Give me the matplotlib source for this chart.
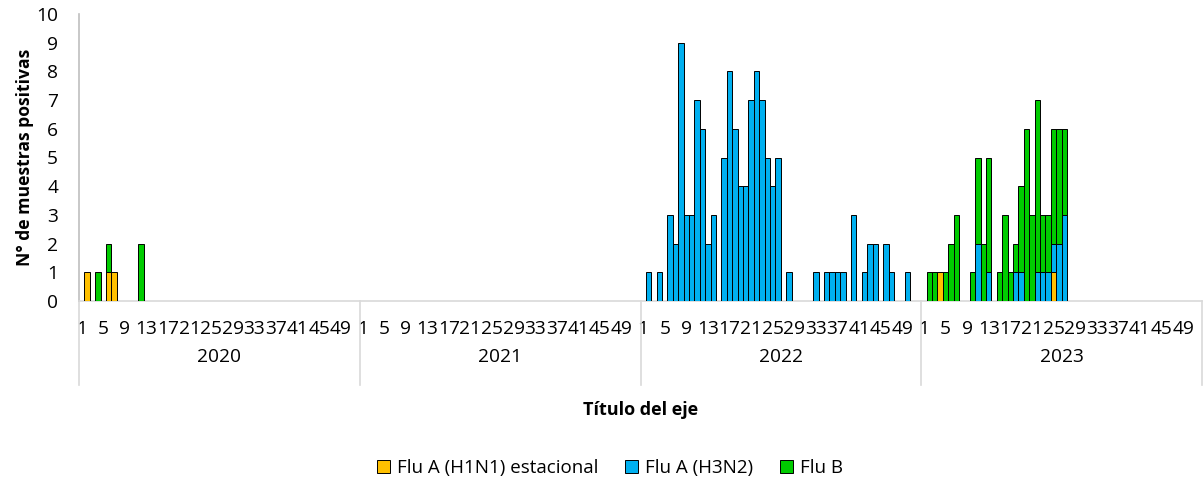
import numpy as np
import matplotlib
matplotlib.use("Agg")
import matplotlib.pyplot as plt
import matplotlib.transforms as mtransforms
from matplotlib.patches import Patch

plt.rcParams['font.family'] = ['Open Sans', 'DejaVu Sans']

# data: positive samples per epidemiological week (52 weeks per year)
years = [2020, 2021, 2022, 2023]
week_ticks = [1, 5, 9, 13, 17, 21, 25, 29, 33, 37, 41, 45, 49]
series_names = ["Flu A (H1N1) estacional", "Flu A (H3N2)", "Flu B"]
series_colors = ["#FFC000", "#00B0F0", "#00CC00"]

# {week: count} for each year, only non-zero weeks
h1n1 = {
    2020: {2: 1, 6: 1, 7: 1},
    2021: {},
    2022: {},
    2023: {4: 1, 25: 1},
}
h3n2 = {
    2020: {},
    2021: {},
    2022: {2: 1, 4: 1, 6: 3, 7: 2, 8: 9, 9: 3, 10: 3, 11: 7, 12: 6, 13: 2,
           14: 3, 16: 5, 17: 8, 18: 6, 19: 4, 20: 4, 21: 7, 22: 8, 23: 7,
           24: 5, 25: 4, 26: 5, 28: 1, 33: 1, 35: 1, 36: 1, 37: 1, 38: 1,
           40: 3, 42: 1, 43: 2, 44: 2, 46: 2, 47: 1, 50: 1},
    2023: {11: 2, 13: 1, 18: 1, 19: 1, 22: 1, 23: 1, 24: 1, 25: 1, 26: 2,
           27: 3},
}
flu_b = {
    2020: {4: 1, 6: 1, 12: 2},
    2021: {},
    2022: {},
    2023: {2: 1, 3: 1, 5: 1, 6: 2, 7: 3, 10: 1, 11: 3, 12: 2, 13: 4, 15: 1,
           16: 3, 17: 1, 18: 1, 19: 3, 20: 6, 21: 3, 22: 6, 23: 2, 24: 2,
           25: 4, 26: 4, 27: 3},
}

n_weeks = 52


def to_array(d):
    arr = np.zeros(len(years) * n_weeks)
    for k, y in enumerate(years):
        for w, v in d[y].items():
            arr[k * n_weeks + w - 1] = v
    return arr


values = [to_array(h1n1), to_array(h3n2), to_array(flu_b)]
x = np.arange(len(years) * n_weeks)

fig = plt.figure(figsize=(12.03, 4.83), dpi=100)
ax = fig.add_axes([79 / 1203, 1 - 301 / 483, 1123 / 1203, 287 / 483])

bottom = np.zeros_like(x, dtype=float)
for vals, col in zip(values, series_colors):
    m = vals > 0
    ax.bar(x[m], vals[m], width=1.0, bottom=bottom[m], color=col,
           edgecolor="black", linewidth=0.7, zorder=3)
    bottom += vals

ax.set_xlim(-0.5, len(x) - 0.5)
ax.set_ylim(0, 10)
ax.set_yticks(range(0, 11))
ax.tick_params(axis="y", length=0, pad=15, labelsize=13.8)

tick_pos = [k * n_weeks + w - 1 for k in range(len(years)) for w in week_ticks]
tick_lab = [str(w) for k in range(len(years)) for w in week_ticks]
ax.set_xticks(tick_pos)
ax.set_xticklabels(tick_lab)
ax.tick_params(axis="x", length=0, pad=14, labelsize=13.8)

for s in ["top", "right"]:
    ax.spines[s].set_visible(False)
ax.spines["left"].set_color("#BFBFBF")
ax.spines["left"].set_linewidth(1.2)
ax.spines["bottom"].set_color("#D9D9D9")
ax.spines["bottom"].set_linewidth(1.2)

# year group labels and separators
trans = mtransforms.blended_transform_factory(ax.transData, ax.transAxes)
for k, y in enumerate(years):
    ax.text(k * n_weeks + n_weeks / 2 - 0.5, -0.195, str(y), transform=trans,
            ha="center", va="center", fontsize=13.8)
for k in range(len(years) + 1):
    xb = k * n_weeks - 0.5
    ax.plot([xb, xb], [0, -0.293], transform=trans, color="#D9D9D9",
            linewidth=1.2, clip_on=False)

fig.text(641 / 1203, 1 - 410 / 483, "Título del eje", ha="center",
         va="center", fontsize=13.0, fontweight="bold")
fig.text(25 / 1203, 1 - 157 / 483, "N° de muestras positivas", ha="center",
         va="center", rotation=90, fontsize=12.6, fontweight="bold")

handles = [Patch(facecolor=c, edgecolor="black", linewidth=0.7)
           for c in series_colors]
fig.legend(handles, series_names, loc="center", ncol=3,
           bbox_to_anchor=(610 / 1203, 1 - 468 / 483), frameon=False,
           fontsize=13.5, handlelength=0.7, handleheight=0.7,
           handletextpad=0.35, columnspacing=1.45)

fig.savefig("out.png", dpi=100)
